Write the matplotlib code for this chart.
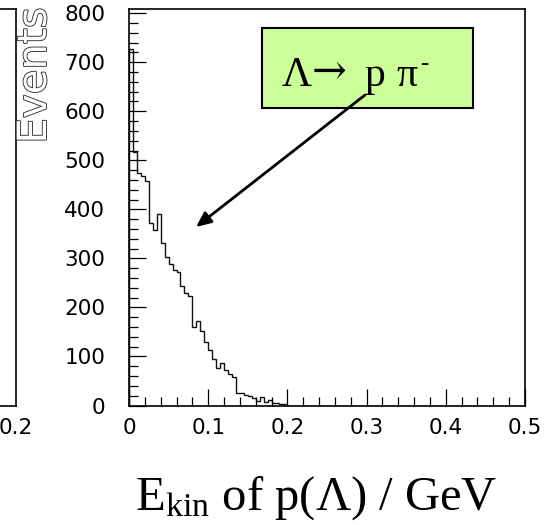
import numpy as np
import matplotlib
matplotlib.use("Agg")
import matplotlib.pyplot as plt
from matplotlib import patheffects
from matplotlib.patches import Rectangle
from matplotlib.ticker import MultipleLocator

plt.rcParams['mathtext.fontset'] = 'custom'
plt.rcParams['mathtext.rm'] = 'Liberation Serif'
plt.rcParams['mathtext.it'] = 'Liberation Serif:italic'

# Kinetic energy of the proton from Lambda decay, 100 bins over 0..0.5 GeV
bin_edges = np.linspace(0.0, 0.5, 101)
counts_head = [727, 516, 474, 469, 457, 372, 358, 390, 332, 303,
               289, 276, 272, 243, 229, 224, 160, 173, 151, 129,
               113, 95, 77, 87, 72, 65, 59, 26, 25, 22,
               20, 16, 9, 18, 7, 11, 5, 5, 3, 4]
counts = np.zeros(100)
counts[:len(counts_head)] = counts_head

x_ticks = [0, 0.1, 0.2, 0.3, 0.4, 0.5]
x_tick_labels = ['0', '0.1', '0.2', '0.3', '0.4', '0.5']
y_ticks = [0, 100, 200, 300, 400, 500, 600, 700, 800]

W, H = 560, 525
fig = plt.figure(figsize=(W / 100, H / 100), dpi=100)
fig.patch.set_facecolor('white')

ax_l, ax_r, ax_t, ax_b = 129, 525, 9.3, 405.5
ax = fig.add_axes([ax_l / W, 1 - ax_b / H, (ax_r - ax_l) / W, (ax_b - ax_t) / H])

# neighbouring pad of the canvas (only its right edge shows)
ax0 = fig.add_axes([-0.3, 1 - ax_b / H, 0.3 + 15.5 / W, (ax_b - ax_t) / H])
ax0.set_xlim(0, 0.2)
ax0.set_ylim(0, 1)
ax0.set_xticks([0.2])
ax0.set_xticklabels(['0.2'])
ax0.set_yticks([])
ax0.tick_params(axis='x', length=0, pad=9, labelsize=15.5)
for s in ax0.spines.values():
    s.set_linewidth(1.2)

ax.stairs(counts, bin_edges, color='#111111', linewidth=1.0)

ax.set_xlim(0, 0.5)
ax.set_ylim(0, 808)
ax.set_xticks(x_ticks)
ax.set_xticklabels(x_tick_labels)
ax.set_yticks(y_ticks)
ax.xaxis.set_minor_locator(MultipleLocator(0.02))
ax.yaxis.set_minor_locator(MultipleLocator(20))
ax.tick_params(which='both', direction='in', top=False, right=False, width=0.9)
ax.tick_params(which='major', length=12.5, labelsize=15.5)
ax.tick_params(which='minor', length=6.2)
ax.tick_params(axis='y', which='major', pad=17)
ax.tick_params(axis='x', which='major', pad=9)
for s in ax.spines.values():
    s.set_linewidth(1.2)

# y-axis title in outline lettering
fig.text(35 / W, 1 - 75.5 / H, 'Events', rotation=90, ha='center', va='center',
         fontsize=29, color='white',
         path_effects=[patheffects.Stroke(linewidth=1.2, foreground='#222222'),
                       patheffects.Normal()])

# x-axis title
fig.text(316 / W, 1 - 510 / H, r'E$_{\mathrm{kin}}$ of p(Λ) / GeV',
         ha='center', va='baseline', fontsize=35, family='Liberation Serif')


def px_to_data(px, py):
    x = (px - ax_l) / (ax_r - ax_l) * 0.5
    y = (ax_b - py) / (ax_b - ax_t) * 808
    return x, y


def fig_px(px, py):
    return px / W, 1 - py / H


# decay label box
bx0, by0 = px_to_data(261.7, 107.7)
bx1, by1 = px_to_data(472.7, 28.3)
ax.add_patch(Rectangle((bx0, by0), bx1 - bx0, by1 - by0, facecolor='#ccff99',
                       edgecolor='black', linewidth=1.5, zorder=3))

baseline = 85.7
fig.text(*fig_px(282, baseline), 'Λ', ha='left', va='baseline', fontsize=30,
         family='Liberation Serif', zorder=6)
fig.text(*fig_px(312, baseline - 2), '→', ha='left', va='baseline', fontsize=30,
         family='DejaVu Serif', zorder=6)
fig.text(*fig_px(364, baseline), 'p', ha='left', va='baseline', fontsize=30,
         family='Liberation Serif', zorder=6)
fig.text(*fig_px(396, baseline), 'π', ha='left', va='baseline', fontsize=30,
         family='Liberation Serif', zorder=6)
fig.text(*fig_px(420.5, 70), '-', ha='left', va='baseline', fontsize=18,
         family='Liberation Serif', zorder=6)

# arrow pointing at the distribution
ax_tail = px_to_data(365, 95)
ax_head = px_to_data(196, 227)
ax.annotate('', xy=ax_head, xytext=ax_tail,
            arrowprops=dict(arrowstyle='-|>,head_length=0.9,head_width=0.4',
                            color='black', linewidth=2.0, shrinkA=0, shrinkB=0),
            zorder=5)

fig.savefig('out.png', dpi=100, facecolor='white')
